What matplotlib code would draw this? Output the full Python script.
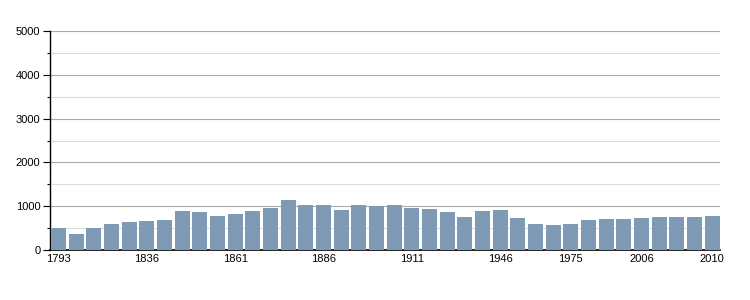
import matplotlib
matplotlib.use("Agg")
import matplotlib.pyplot as plt
from matplotlib.ticker import MultipleLocator

years = [1793, 1800, 1806, 1821, 1831, 1836, 1841, 1846, 1851, 1856,
         1861, 1866, 1872, 1876, 1881, 1886, 1891, 1896, 1901, 1906,
         1911, 1921, 1926, 1931, 1936, 1946, 1954, 1962, 1968, 1975,
         1982, 1990, 1999, 2006, 2007, 2008, 2009, 2010]
population = [500, 364, 500, 591, 636, 659, 682, 886, 864, 773,
              818, 886, 955, 1136, 1023, 1023, 909, 1023, 1000, 1023,
              955, 932, 864, 750, 886, 909, 727, 591, 568, 591,
              682, 705, 705, 727, 750, 750, 750, 773]
labelled_years = [1793, 1836, 1861, 1886, 1911, 1946, 1975, 2006, 2010]

plt.rcParams['font.family'] = ['Liberation Sans', 'DejaVu Sans']

fig = plt.figure(figsize=(7.5, 3), dpi=100)
ax = fig.add_axes([50 / 750, 50 / 300, 670 / 750, 219 / 300])

x = list(range(len(years)))
ax.bar(x, population, width=0.85, color="#7f9ab5", zorder=3)

ax.set_ylim(0, 5000)
ax.set_xlim(-0.48, len(years) - 0.55)
ax.yaxis.set_major_locator(MultipleLocator(1000))
ax.yaxis.set_minor_locator(MultipleLocator(500))
ax.grid(True, which="major", axis="y", color="#aaaaaa", linewidth=0.8, zorder=0)
ax.grid(True, which="minor", axis="y", color="#dddddd", linewidth=0.8, zorder=0)

ticks = [years.index(y) for y in labelled_years]
ax.set_xticks(ticks)
ax.set_xticklabels([str(y) for y in labelled_years])
ax.tick_params(axis="x", length=0, pad=3, labelsize=8)
ax.tick_params(axis="y", which="major", length=5, width=0.8, labelsize=8, pad=2)
ax.tick_params(axis="y", which="minor", length=2.5, width=0.8)

for side in ["top", "right"]:
    ax.spines[side].set_visible(False)
ax.spines["left"].set_linewidth(1)
ax.spines["bottom"].set_linewidth(1.2)

fig.savefig("out.png", dpi=100)
